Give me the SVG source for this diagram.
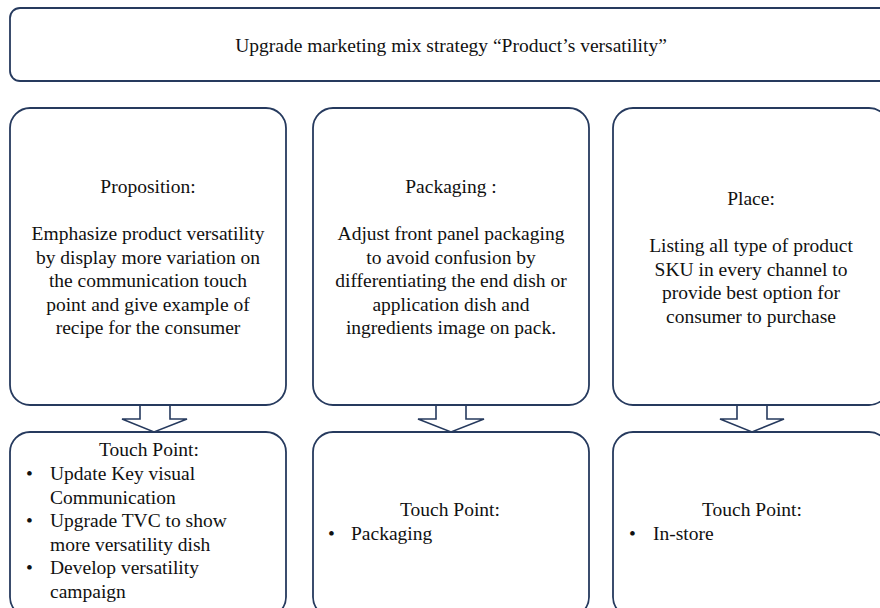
<svg xmlns="http://www.w3.org/2000/svg" width="880" height="608" viewBox="0 0 880 608">
<style>
.box{fill:#fff;stroke:#263a5e;stroke-width:1.8}
.arr{fill:#fff;stroke:#263a5e;stroke-width:1.6;stroke-linejoin:miter}
text{font-family:"Liberation Serif","Times New Roman",serif;font-size:19.5px;fill:#111}
.c{text-anchor:middle}
</style>
<rect width="880" height="608" fill="#fff"/>
<g id="title">
<rect class="box" x="10" y="8" width="885" height="73" rx="10"/>
<text class="c" x="451" y="51.5">Upgrade marketing mix strategy “Product’s versatility”</text>
</g>
<g id="proposition">
<rect class="box" x="10" y="108" width="276" height="297" rx="20"/>
<text class="c" x="148" y="193">Proposition:</text>
<text class="c" x="148" y="240">Emphasize product versatility</text>
<text class="c" x="148" y="263.5">by display more variation on</text>
<text class="c" x="148" y="287">the communication touch</text>
<text class="c" x="148" y="310.5">point and give example of</text>
<text class="c" x="148" y="334">recipe for the consumer</text>
</g>
<g id="packaging">
<rect class="box" x="313" y="108" width="276" height="297" rx="20"/>
<text class="c" x="451" y="193">Packaging :</text>
<text class="c" x="451" y="240">Adjust front panel packaging</text>
<text class="c" x="451" y="263.5">to avoid confusion by</text>
<text class="c" x="451" y="287">differentiating the end dish or</text>
<text class="c" x="451" y="310.5">application dish and</text>
<text class="c" x="451" y="334">ingredients image on pack.</text>
</g>
<g id="place">
<rect class="box" x="613" y="108" width="276" height="297" rx="20"/>
<text class="c" x="751" y="205">Place:</text>
<text class="c" x="751" y="252">Listing all type of product</text>
<text class="c" x="751" y="275.5">SKU in every channel to</text>
<text class="c" x="751" y="299">provide best option for</text>
<text class="c" x="751" y="322.5">consumer to purchase</text>
</g>
<g id="touch1">
<rect class="box" x="10" y="432" width="276" height="185" rx="20"/>
<text class="c" x="149" y="456">Touch Point:</text>
<text x="26" y="480">•</text><text x="50" y="480">Update Key visual</text>
<text x="50" y="503.5">Communication</text>
<text x="26" y="527">•</text><text x="50" y="527">Upgrade TVC to show</text>
<text x="50" y="550.5">more versatility dish</text>
<text x="26" y="574">•</text><text x="50" y="574">Develop versatility</text>
<text x="50" y="597.5">campaign</text>
</g>
<g id="touch2">
<rect class="box" x="313" y="432" width="276" height="185" rx="20"/>
<text class="c" x="450" y="516">Touch Point:</text>
<text x="328" y="539.5">•</text><text x="351" y="539.5">Packaging</text>
</g>
<g id="touch3">
<rect class="box" x="613" y="432" width="276" height="185" rx="20"/>
<text class="c" x="752" y="516">Touch Point:</text>
<text x="629" y="539.5">•</text><text x="653" y="539.5">In-store</text>
</g>
<g id="connectors">
<path class="arr" d="M140,405.9 V419 H122 L154,432 L187,419 H170 V405.9"/>
<path class="arr" d="M436,405.9 V419 H418 L451,432 L484,419 H466 V405.9"/>
<path class="arr" d="M737,405.9 V419 H720 L752,432 L784,419 H767 V405.9"/>
</g>
</svg>
